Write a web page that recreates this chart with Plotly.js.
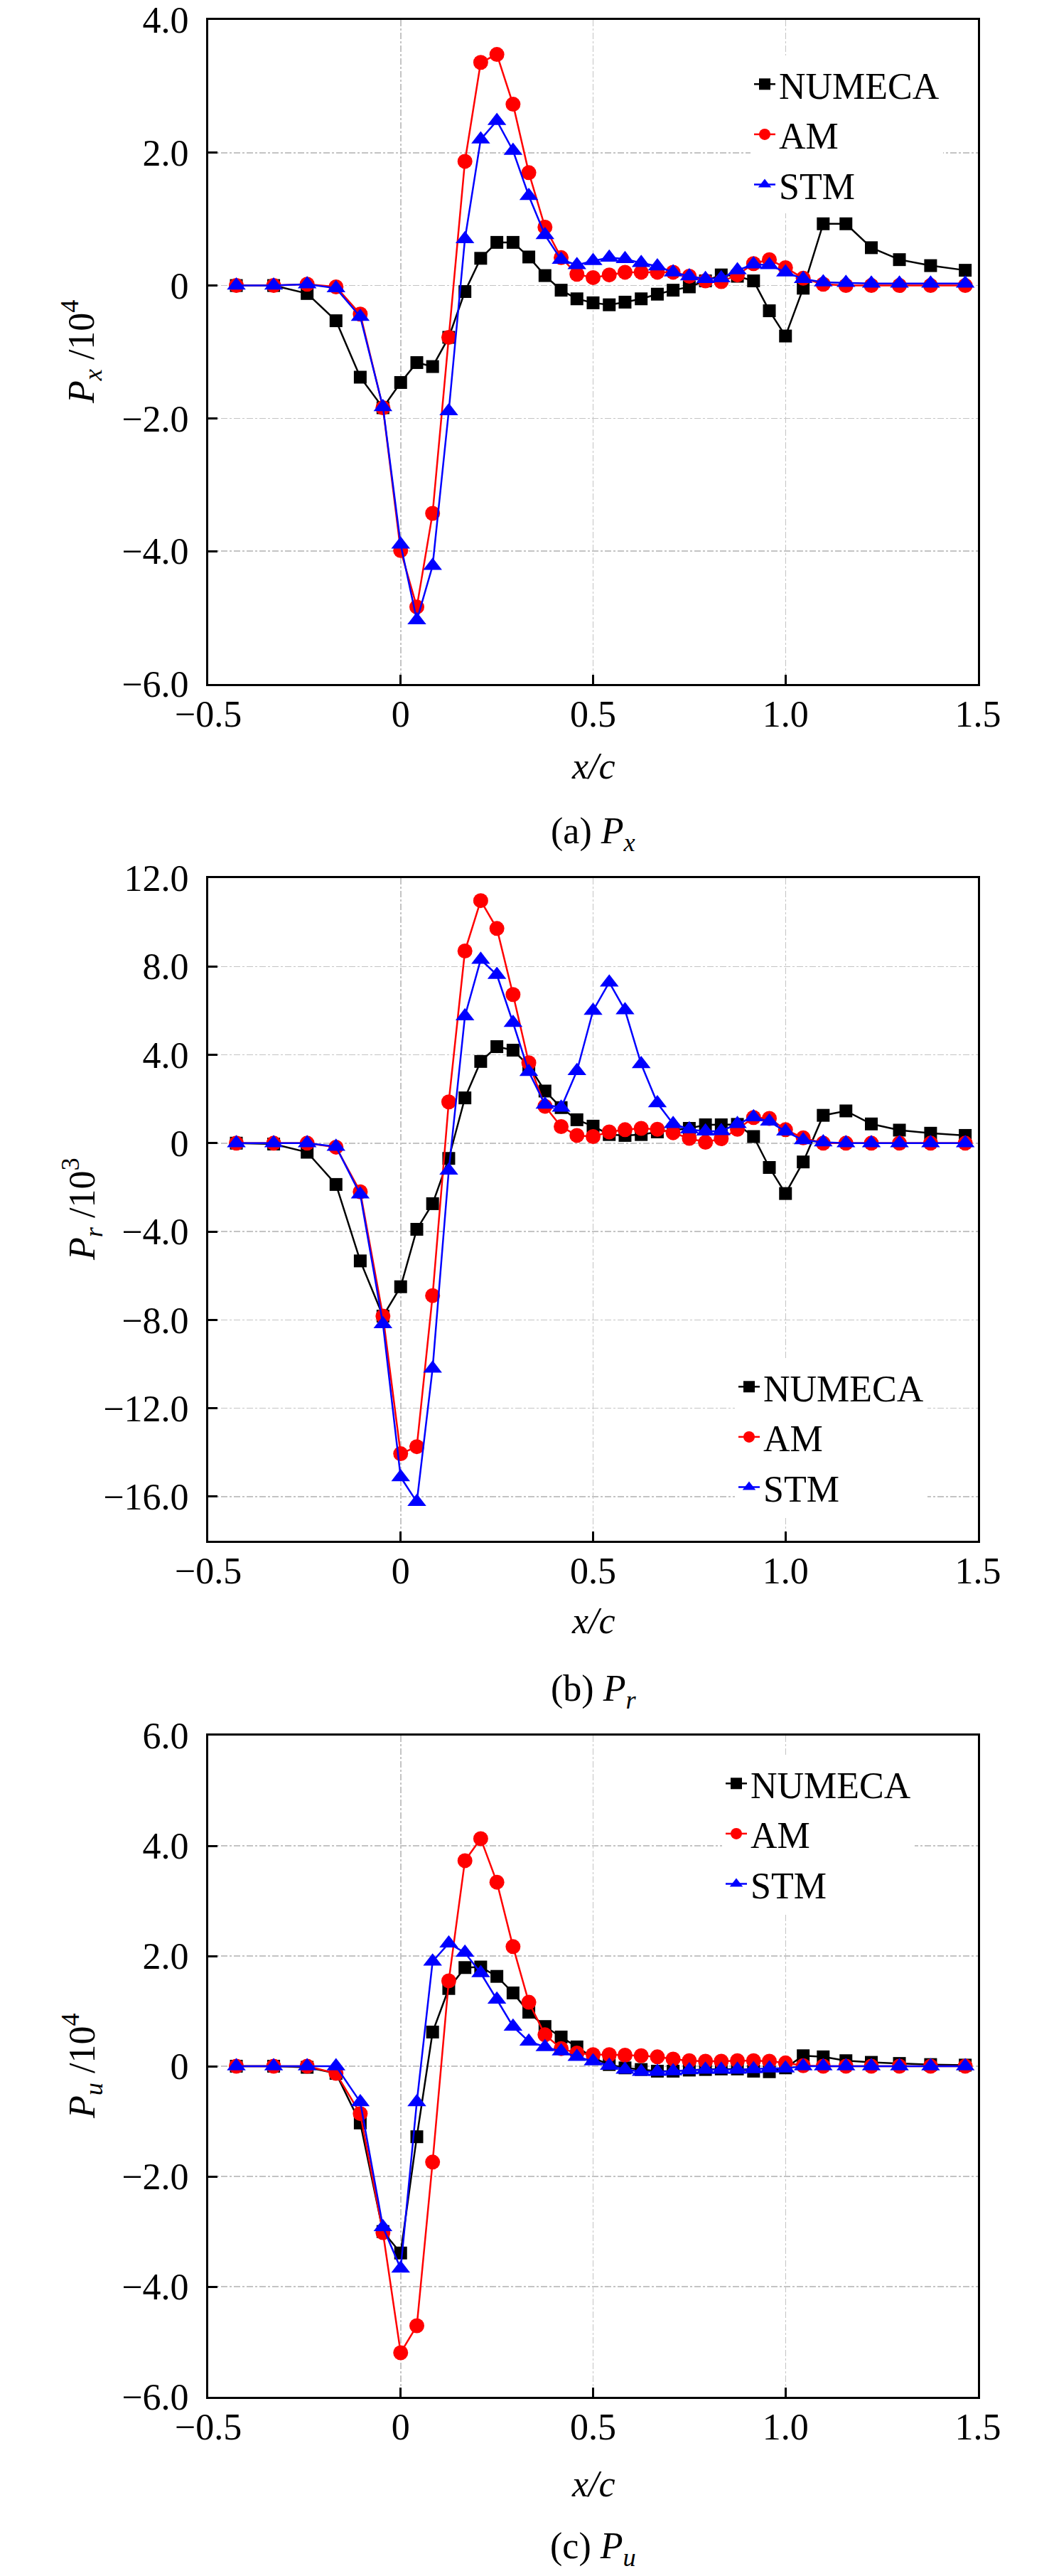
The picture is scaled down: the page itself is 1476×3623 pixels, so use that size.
<!DOCTYPE html>
<html>
<head>
<meta charset="utf-8">
<script src="https://cdn.plot.ly/plotly-3.0.1.min.js"></script>
<style>
  html, body { margin: 0; padding: 0; background: #fff; }
  #chart { width: 1476px; height: 3623px; }
</style>
</head>
<body>
<div id="chart"></div>
<script>
// x/c stations shared by all three panels
const xc = [-0.427, -0.33, -0.243, -0.168, -0.105, -0.046, 0, 0.042, 0.083, 0.125,
  0.167, 0.208, 0.25, 0.292, 0.333, 0.375, 0.417, 0.458, 0.5, 0.542,
  0.583, 0.625, 0.667, 0.708, 0.75, 0.792, 0.833, 0.875, 0.917, 0.958,
  1.0, 1.046, 1.098, 1.157, 1.223, 1.296, 1.377, 1.467];

// (a) Px / 10^4
const pxNumeca = [0, 0, -0.12, -0.53, -1.38, -1.84, -1.46, -1.16, -1.22, -0.78,
  -0.09, 0.41, 0.65, 0.65, 0.43, 0.15, -0.07, -0.2, -0.26, -0.29,
  -0.25, -0.2, -0.13, -0.07, -0.02, 0.07, 0.16, 0.14, 0.07, -0.38,
  -0.76, -0.04, 0.93, 0.93, 0.57, 0.39, 0.3, 0.23];
const pxAM = [0, 0, 0.02, -0.02, -0.43, -1.84, -3.99, -4.84, -3.43, -0.78,
  1.87, 3.36, 3.48, 2.73, 1.70, 0.88, 0.42, 0.17, 0.12, 0.16,
  0.2, 0.2, 0.2, 0.2, 0.14, 0.07, 0.06, 0.16, 0.33, 0.39,
  0.27, 0.11, 0.02, 0, 0, 0, 0, 0];
const pxSTM = [0, 0, 0.02, -0.04, -0.47, -1.83, -3.9, -5.04, -4.22, -1.89,
  0.70, 2.2, 2.48, 2.03, 1.35, 0.76, 0.39, 0.31, 0.37, 0.42,
  0.40, 0.34, 0.29, 0.2, 0.14, 0.1, 0.11, 0.23, 0.32, 0.31,
  0.2, 0.1, 0.05, 0.04, 0.03, 0.03, 0.03, 0.03];

// (b) Pr / 10^3
const prNumeca = [0, -0.04, -0.41, -1.87, -5.33, -7.83, -6.5, -3.9, -2.74, -0.69,
  2.05, 3.70, 4.37, 4.21, 3.5, 2.36, 1.61, 1.06, 0.77, 0.39,
  0.35, 0.39, 0.51, 0.59, 0.67, 0.83, 0.83, 0.85, 0.3, -1.1,
  -2.28, -0.85, 1.26, 1.46, 0.87, 0.59, 0.45, 0.35];
const prAM = [0, 0, 0, -0.18, -2.2, -7.83, -14.06, -13.74, -6.9, 1.87,
  8.7, 10.98, 9.72, 6.73, 3.64, 1.67, 0.75, 0.35, 0.3, 0.51,
  0.61, 0.67, 0.63, 0.47, 0.22, 0.04, 0.2, 0.63, 1.16, 1.12,
  0.61, 0.24, 0, 0, 0, 0, 0, 0];
const prSTM = [0, 0, 0, -0.16, -2.32, -8.19, -15.12, -16.24, -10.2, -1.24,
  5.75, 8.31, 7.62, 5.45, 3.23, 1.75, 1.61, 3.27, 6.0, 7.28,
  6.02, 3.58, 1.81, 0.87, 0.63, 0.53, 0.55, 0.87, 1.18, 0.98,
  0.53, 0.14, 0.04, 0, 0, 0, 0, 0];

// (c) Pu / 10^4
const puNumeca = [0, 0, -0.02, -0.13, -1.03, -3.0, -3.39, -1.28, 0.62, 1.41,
  1.79, 1.80, 1.63, 1.33, 0.98, 0.72, 0.53, 0.35, 0.15, 0.03,
  -0.03, -0.06, -0.09, -0.09, -0.07, -0.06, -0.05, -0.05, -0.09, -0.1,
  -0.03, 0.19, 0.17, 0.1, 0.07, 0.05, 0.03, 0.02];
const puAM = [0, 0, 0, -0.13, -0.86, -3.02, -5.2, -4.71, -1.74, 1.55,
  3.73, 4.13, 3.34, 2.17, 1.16, 0.57, 0.32, 0.24, 0.21, 0.21,
  0.2, 0.19, 0.17, 0.13, 0.1, 0.09, 0.09, 0.1, 0.1, 0.09,
  0.06, 0.01, 0, 0, 0, 0, 0, 0];
const puSTM = [0, 0, 0, 0, -0.65, -2.92, -3.67, -0.65, 1.90, 2.23,
  2.06, 1.69, 1.21, 0.72, 0.45, 0.35, 0.27, 0.17, 0.09, 0.01,
  -0.06, -0.1, -0.1, -0.09, -0.07, -0.06, -0.06, -0.06, -0.05, -0.04,
  -0.04, 0, 0, 0, 0, 0, 0, 0];

// tick labels
const xTickVals = [-0.5, 0, 0.5, 1.0, 1.5];
const xTickText = ['\u22120.5', '0', '0.5', '1.0', '1.5'];
const yTickValsA = [-6, -4, -2, 0, 2, 4];
const yTickTextA = ['\u22126.0', '\u22124.0', '\u22122.0', '0', '2.0', '4.0'];
const yTickValsB = [-16, -12, -8, -4, 0, 4, 8, 12];
const yTickTextB = ['\u221216.0', '\u221212.0', '\u22128.0', '\u22124.0', '0', '4.0', '8.0', '12.0'];
const yTickValsC = [-6, -4, -2, 0, 2, 4, 6];
const yTickTextC = ['\u22126.0', '\u22124.0', '\u22122.0', '0', '2.0', '4.0', '6.0'];

const seriesNames = ['NUMECA', 'AM', 'STM'];

// page geometry (px)
const W = 1476, H = 3623;
const L = 293, R = 1376, T = 28, B = 3371;
const px2x = p => (p - L) / (R - L);
const px2y = p => (B - p) / (B - T);

const FONT = 'Liberation Serif, Times New Roman, serif';
const FS = 52;

const styles = [
  { color: '#000000', symbol: 'square', size: 18 },
  { color: '#ff0000', symbol: 'circle', size: 21 },
  { color: '#0000ff', symbol: 'triangle-up', size: 23 }
];

function makeTraces(ys, xa, ya, legendId) {
  return ys.map((y, i) => ({
    type: 'scatter', mode: 'lines+markers',
    x: xc, y: y, xaxis: xa, yaxis: ya,
    name: seriesNames[i], legend: legendId,
    line: { color: styles[i].color, width: 2.5 },
    marker: { color: styles[i].color, symbol: styles[i].symbol, size: styles[i].size, line: { width: 0 } }
  }));
}

const data = [].concat(
  makeTraces([pxNumeca, pxAM, pxSTM], 'x', 'y', 'legend'),
  makeTraces([prNumeca, prAM, prSTM], 'x2', 'y2', 'legend2'),
  makeTraces([puNumeca, puAM, puSTM], 'x3', 'y3', 'legend3')
);

const tickFont = { family: FONT, size: FS, color: '#000' };
const grid = { showgrid: true, gridcolor: '#c4c4c4', gridwidth: 1.5, griddash: 'dashdot' };

function mainX(anchor) {
  return Object.assign({
    anchor: anchor, domain: [0, 1], range: [-0.5, 1.5], fixedrange: true,
    tickmode: 'array', tickvals: xTickVals, ticktext: xTickText,
    ticks: 'inside', ticklen: 13, tickwidth: 3, tickcolor: '#000',
    showline: true, linewidth: 3, linecolor: '#000', mirror: true,
    zeroline: false, tickfont: tickFont, ticklabelstandoff: -5
  }, grid);
}
function mainY(anchor, dom, rng, vals, text) {
  return Object.assign({
    anchor: anchor, domain: dom, range: rng, fixedrange: true,
    tickmode: 'array', tickvals: vals, ticktext: text,
    ticks: 'inside', ticklen: 13, tickwidth: 3, tickcolor: '#000',
    showline: true, linewidth: 3, linecolor: '#000', mirror: true,
    zeroline: false, tickfont: tickFont, ticklabelstandoff: 14
  }, grid);
}
function topX(over, anchor) {
  return {
    overlaying: over, anchor: anchor, side: 'top', range: [-0.5, 1.5], fixedrange: true,
    tick0: 0, dtick: 0.5, ticks: 'inside', ticklen: 13, tickwidth: 3, tickcolor: '#000',
    minor: { tick0: 0, dtick: 0.25, ticks: 'inside', ticklen: 9, tickwidth: 3, tickcolor: '#000', showgrid: false },
    showticklabels: false, showgrid: false, showline: false, zeroline: false
  };
}
function rightY(over, anchor, rng, major, minor) {
  return {
    overlaying: over, anchor: anchor, side: 'right', range: rng, fixedrange: true,
    tick0: 0, dtick: major, ticks: 'inside', ticklen: 13, tickwidth: 3, tickcolor: '#000',
    minor: { tick0: 0, dtick: minor, ticks: 'inside', ticklen: 9, tickwidth: 3, tickcolor: '#000', showgrid: false },
    showticklabels: false, showgrid: false, showline: false, zeroline: false
  };
}

const domA = [px2y(962), 1];
const domB = [px2y(2167), px2y(1235)];
const domC = [0, px2y(2441)];

function legendAt(leftPx, topPx) {
  return {
    x: px2x(leftPx), y: px2y(topPx), xanchor: 'left', yanchor: 'top',
    bgcolor: '#ffffff', borderwidth: 0, tracegroupgap: 0, itemsizing: 'trace',
    font: { family: FONT, size: FS, color: '#000' }
  };
}

function note(text, xPx, yPx, extra) {
  return Object.assign({
    text: text, xref: 'paper', yref: 'paper', x: px2x(xPx), y: px2y(yPx),
    xanchor: 'center', yanchor: 'middle', showarrow: false,
    font: { family: FONT, size: FS, color: '#000' }
  }, extra || {});
}

const midX = (L + R) / 2;
const annotations = [
  note('<i>x/c</i>', midX, 1077),
  note('<i>x/c</i>', midX, 2279),
  note('<i>x/c</i>', midX, 3493),
  note('(a) <i>P</i><sub><i>x</i></sub>', midX, 1172),
  note('(b) <i>P</i><sub><i>r</i></sub>', midX, 2378),
  note('(c) <i>P</i><sub><i>u</i></sub>', midX, 3584),
  note('<i>P</i><sub><i>x</i></sub> /10<sup>4</sup>', 115, (28 + 962) / 2, { textangle: -90 }),
  note('<i>P</i><sub><i>r</i></sub> /10<sup>3</sup>', 115, (1235 + 2167) / 2, { textangle: -90 }),
  note('<i>P</i><sub><i>u</i></sub> /10<sup>4</sup>', 115, (2441 + 3371) / 2, { textangle: -90 })
];

const layout = {
  width: W, height: H,
  margin: { l: L, r: W - R, t: T, b: H - B, pad: 0 },
  paper_bgcolor: '#ffffff', plot_bgcolor: '#ffffff',
  font: { family: FONT, size: FS, color: '#000' },
  showlegend: true,
  xaxis: mainX('y'), xaxis2: mainX('y2'), xaxis3: mainX('y3'),
  yaxis: mainY('x', domA, [-6, 4], yTickValsA, yTickTextA),
  yaxis2: mainY('x2', domB, [-18, 12], yTickValsB, yTickTextB),
  yaxis3: mainY('x3', domC, [-6, 6], yTickValsC, yTickTextC),
  xaxis4: topX('x', 'y'), xaxis5: topX('x2', 'y2'), xaxis6: topX('x3', 'y3'),
  yaxis4: rightY('y', 'x', [-6, 4], 2, 1),
  yaxis5: rightY('y2', 'x2', [-18, 12], 4, 2),
  yaxis6: rightY('y3', 'x3', [-6, 6], 2, 1),
  legend: legendAt(1056, 78),
  legend2: legendAt(1034, 1910),
  legend3: legendAt(1016, 2468),
  annotations: annotations
};

Plotly.newPlot('chart', data, layout, { displayModeBar: false, staticPlot: true });
</script>
</body>
</html>
